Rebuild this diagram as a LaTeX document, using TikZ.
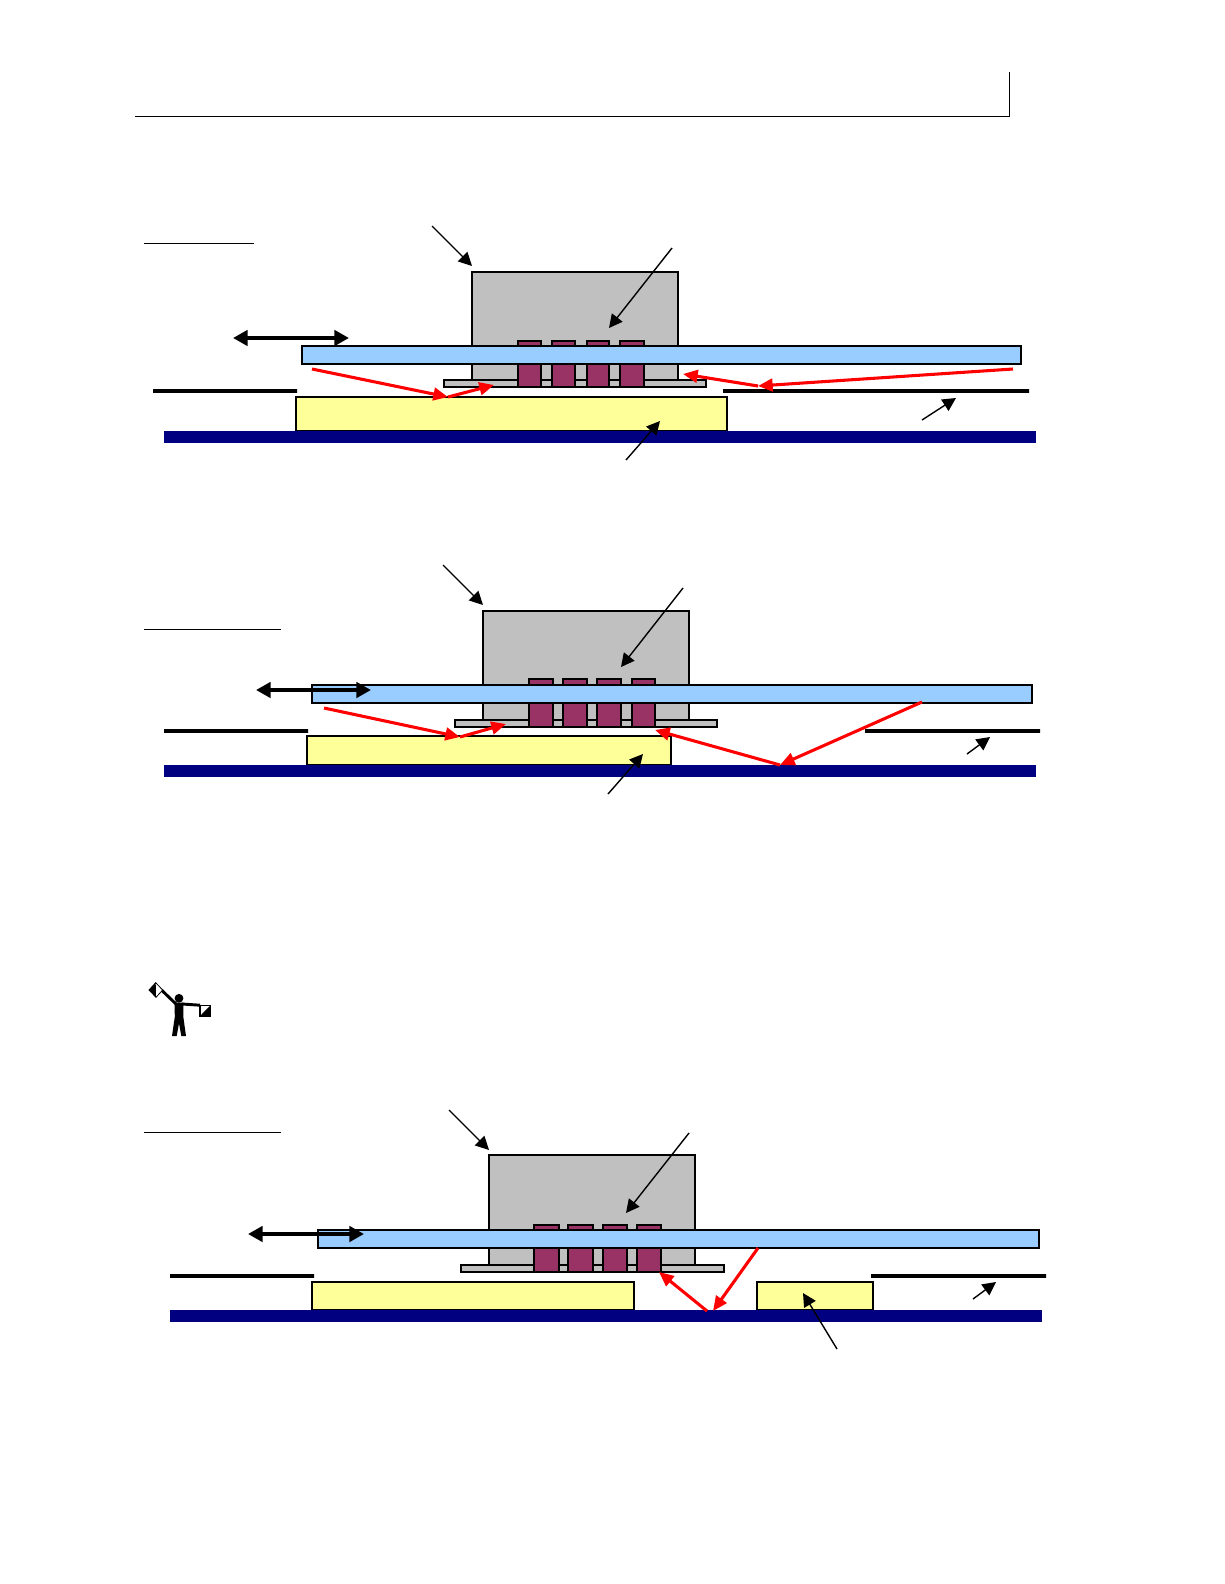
\documentclass[tikz,border=0pt]{standalone}
\usetikzlibrary{arrows.meta}
\definecolor{chipgray}{HTML}{C0C0C0}
\definecolor{boardblue}{HTML}{99CCFF}
\definecolor{padyellow}{HTML}{FFFF99}
\definecolor{basenavy}{HTML}{000080}
\definecolor{pinpurple}{HTML}{993366}
\newcommand{\rectshape}[5]{\path[#1] (#2,#3) rectangle (#4,#5);}
% arrow between two named coordinates
\newcommand{\linkarrow}[6]{\coordinate (#2s) at (#3,#4); \coordinate (#2e) at (#5,#6); \draw[#1] (#2s) -- (#2e);}
\tikzset{
  x=0.75pt,y=-0.75pt,
  rulethin/.style={draw=black,line width=0.6pt},
  chipbox/.style={fill=chipgray,draw=black,line width=1.2pt},
  ledgebox/.style={fill=chipgray,draw=black,line width=1.2pt},
  pinbox/.style={fill=pinpurple,draw=black,line width=1.1pt},
  boardbox/.style={fill=boardblue,draw=black,line width=1.4pt},
  padbox/.style={fill=padyellow,draw=black,line width=0.8pt},
  basebox/.style={fill=basenavy},
  barline/.style={draw=black,line width=3pt},
  thinarrow/.style={draw=black,line width=1.05pt,-{Triangle[length=10pt,width=10pt]}},
  movearrow/.style={draw=black,line width=3pt,{Triangle[length=11pt,width=11.5pt]}-{Triangle[length=11pt,width=11.5pt]}},
  rayarrow/.style={draw=red,line width=2.3pt,-{Triangle[length=11pt,width=9.5pt]}},
}
\begin{document}
\begin{tikzpicture}
\useasboundingbox (0,0) rectangle (1224,1584);
\fill[white] (0,0) rectangle (1224,1584);
% page header
\coordinate (hl) at (135,116); \coordinate (hc) at (1009,116); \coordinate (ht) at (1009,72);
\draw[rulethin] (hl) -- (hc) -- (ht);

% ---------- diagram 1 ----------
\draw[rulethin] (144,243) -- (254,243);
\rectshape{chipbox}{472}{272}{678}{381}
\rectshape{ledgebox}{444}{380}{706}{387}
\rectshape{pinbox}{518}{341}{541}{387}
\rectshape{pinbox}{552}{341}{575}{387}
\rectshape{pinbox}{587}{341}{609}{387}
\rectshape{pinbox}{620}{341}{644}{387}
\rectshape{boardbox}{302}{346}{1021}{364}
\rectshape{barline}{153}{391}{297}{391}
\rectshape{barline}{723}{391}{1029}{391}
\rectshape{padbox}{296}{397}{727}{431}
\rectshape{basebox}{164}{431}{1036}{443}
\linkarrow{rayarrow}{ar}{312}{369}{448}{397}
\linkarrow{rayarrow}{br}{448}{397}{494}{385}
\linkarrow{rayarrow}{cr}{1013}{369}{758}{386}
\linkarrow{rayarrow}{dr}{758}{386}{683}{374}
\linkarrow{movearrow}{am}{233}{338}{349}{338}
\linkarrow{thinarrow}{aa}{432}{226}{472}{266}
\linkarrow{thinarrow}{ab}{672}{248}{609}{328}
\linkarrow{thinarrow}{ac}{626}{460}{660}{421}
\linkarrow{thinarrow}{ad}{922}{420}{956}{398}

% ---------- diagram 2 ----------
\draw[rulethin] (144,629) -- (281,629);
\rectshape{chipbox}{483}{611}{689}{721}
\rectshape{ledgebox}{455}{720}{717}{727}
\rectshape{pinbox}{529}{679}{553}{727}
\rectshape{pinbox}{563}{679}{587}{727}
\rectshape{pinbox}{597}{679}{621}{727}
\rectshape{pinbox}{632}{679}{655}{727}
\rectshape{boardbox}{312}{685}{1032}{703}
\rectshape{barline}{164}{731}{308}{731}
\rectshape{barline}{865}{731}{1040}{731}
\rectshape{padbox}{307}{736}{671}{765}
\rectshape{basebox}{164}{765}{1036}{777}
\linkarrow{rayarrow}{er}{324}{708}{460}{737}
\linkarrow{rayarrow}{fr}{460}{737}{506}{724}
\linkarrow{rayarrow}{gr}{922}{702}{780}{765}
\linkarrow{rayarrow}{hr}{780}{765}{655}{730}
\linkarrow{movearrow}{bm}{256}{690}{371}{690}
\linkarrow{thinarrow}{ba}{443}{565}{483}{605}
\linkarrow{thinarrow}{bb}{683}{588}{621}{667}
\linkarrow{thinarrow}{bc}{608}{794}{643}{754}
\linkarrow{thinarrow}{bd}{967}{754}{990}{737}

% ---------- signal flag figure ----------
\draw[black,line width=0.6pt,fill=white] (149,990) -- (155.7,982.7) -- (162.7,990) -- (156,997.3) -- cycle;
\fill[black] (149,990) -- (155.7,982.7) -- (156,997.3) -- cycle;
\draw[black,line width=2.2pt] (162,990.5) -- (176,1004);
\draw[black,line width=2.2pt] (182,1004) -- (200,1005.2);
\fill[black] (179,998.3) circle (4.4);
\fill[black] (174.5,1002.5) -- (183.5,1002.5) -- (183.3,1016.7) -- (186,1036) -- (181.3,1036)
  -- (179,1023.3) -- (176.7,1036) -- (172,1036) -- (174.8,1016.7) -- cycle;
\draw[black,line width=0.8pt,fill=white] (200,1005.2) rectangle (210.7,1016);
\fill[black] (210.7,1005.2) -- (210.7,1016) -- (200,1016) -- cycle;

% ---------- diagram 3 ----------
\draw[rulethin] (144,1132) -- (281,1132);
\rectshape{chipbox}{489}{1155}{695}{1266}
\rectshape{ledgebox}{461}{1265}{724}{1272}
\rectshape{pinbox}{534}{1225}{559}{1272}
\rectshape{pinbox}{568}{1225}{593}{1272}
\rectshape{pinbox}{603}{1225}{627}{1272}
\rectshape{pinbox}{637}{1225}{661}{1272}
\rectshape{boardbox}{318}{1230}{1039}{1248}
\rectshape{barline}{170}{1276}{314}{1276}
\rectshape{barline}{871}{1276}{1046}{1276}
\rectshape{padbox}{312}{1282}{634}{1310}
\rectshape{padbox}{757}{1282}{873}{1310}
\rectshape{basebox}{170}{1310}{1042}{1322}
\linkarrow{rayarrow}{ir}{758}{1248}{713}{1311}
\linkarrow{rayarrow}{jr}{707}{1311}{659}{1272}
\linkarrow{movearrow}{cm}{248}{1234}{364}{1234}
\linkarrow{thinarrow}{ca}{449}{1110}{489}{1150}
\linkarrow{thinarrow}{cb}{689}{1133}{626}{1213}
\linkarrow{thinarrow}{cc}{837}{1349}{803}{1293}
\linkarrow{thinarrow}{cd}{973}{1299}{996}{1282}
\end{tikzpicture}
\end{document}
